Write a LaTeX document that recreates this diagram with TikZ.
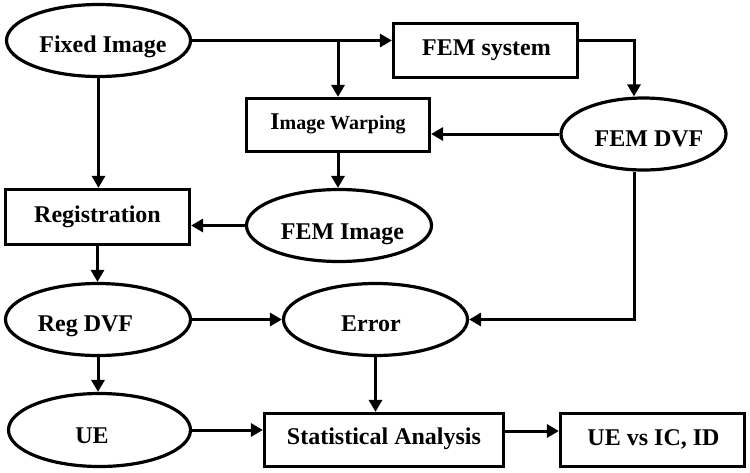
\documentclass[tikz,border=0pt]{standalone}
\usepackage{fontspec}
\setmainfont{Liberation Serif}
\usetikzlibrary{arrows.meta,shapes.geometric}
\newcommand\nodetext[2]{\makebox[0pt]{\hspace*{#1}#2}}
\begin{document}
\begin{tikzpicture}[x=1pt,y=-1pt,
  base/.style={draw, line width=3.2pt, inner sep=0pt, text depth=0pt,
    font=\fontsize{24}{28}\selectfont\bfseries},
  ell/.style={base, ellipse},
  rbox/.style={base, rectangle},
  th/.style={text height=#1},
  arr/.style={line width=3pt, -{Triangle[length=12pt,width=13pt]}}]
\useasboundingbox (0,0) rectangle (750,472);
\node[ell, minimum width=184pt, minimum height=72pt, th=24pt] (fixed) at (98.5,40.5) {\nodetext{9pt}{Fixed Image}};
\node[rbox, minimum width=184pt, minimum height=54pt, th=10pt] (femsys) at (485.5,50.5) {\nodetext{2pt}{FEM system}};
\node[rbox, minimum width=183pt, minimum height=53pt, th=8pt] (warp) at (338,125) {\nodetext{0pt}{I{\fontsize{20}{24}\selectfont mage Warping}}};
\node[ell, minimum width=165pt, minimum height=72pt, th=24pt] (femdvf) at (643.5,134) {\nodetext{11pt}{FEM DVF}};
\node[rbox, minimum width=184pt, minimum height=55pt, th=11pt] (reg) at (97.5,217) {\nodetext{0pt}{Registration}};
\node[ell, minimum width=185pt, minimum height=72pt, th=27pt] (femimg) at (339,225.5) {\nodetext{7pt}{FEM Image}};
\node[ell, minimum width=185pt, minimum height=72pt, th=24pt] (regdvf) at (98,319.5) {\nodetext{-25pt}{Reg DVF}};
\node[ell, minimum width=184pt, minimum height=72pt, th=24pt] (error) at (375.5,319.5) {\nodetext{-9pt}{Error}};
\node[ell, minimum width=182pt, minimum height=73pt, th=26pt] (ue) at (99.5,430) {\nodetext{-15pt}{UE}};
\node[rbox, minimum width=239pt, minimum height=53pt, th=8pt] (stat) at (384,440) {\nodetext{0pt}{Statistical Analysis}};
\node[rbox, minimum width=184pt, minimum height=53pt, th=10pt] (uevs) at (652.5,440) {\nodetext{2pt}{UE vs IC, ID}};
\coordinate (branch) at (fixed.east -| warp.north);
\draw[arr] (fixed.east) -- (fixed.east -| femsys.west);
\draw[arr] (branch) -- (warp.north);
\draw[arr] (femsys.east |- fixed.east) -| ([xshift=-9.5pt]femdvf.north);
\draw[arr] (femdvf.west) -- (femdvf.west -| warp.east);
\draw[arr] (warp.south) -- (warp.south |- femimg.north);
\draw[arr] (femimg.west) -- (femimg.west -| reg.east);
\draw[arr] (fixed.south) -- (fixed.south |- reg.north);
\draw[arr] (reg.south) -- (reg.south |- regdvf.north);
\draw[arr] (regdvf.east) -- (regdvf.east -| error.west);
\draw[arr] ([xshift=-9.5pt]femdvf.south) |- (error.east);
\draw[arr] (error.south) -- (error.south |- stat.north);
\draw[arr] (regdvf.south) -- (regdvf.south |- ue.north);
\draw[arr] (ue.east) -- (ue.east -| stat.west);
\draw[arr] ([yshift=9pt]stat.east) -- ([yshift=9pt]stat.east -| uevs.west);
\end{tikzpicture}
\end{document}
